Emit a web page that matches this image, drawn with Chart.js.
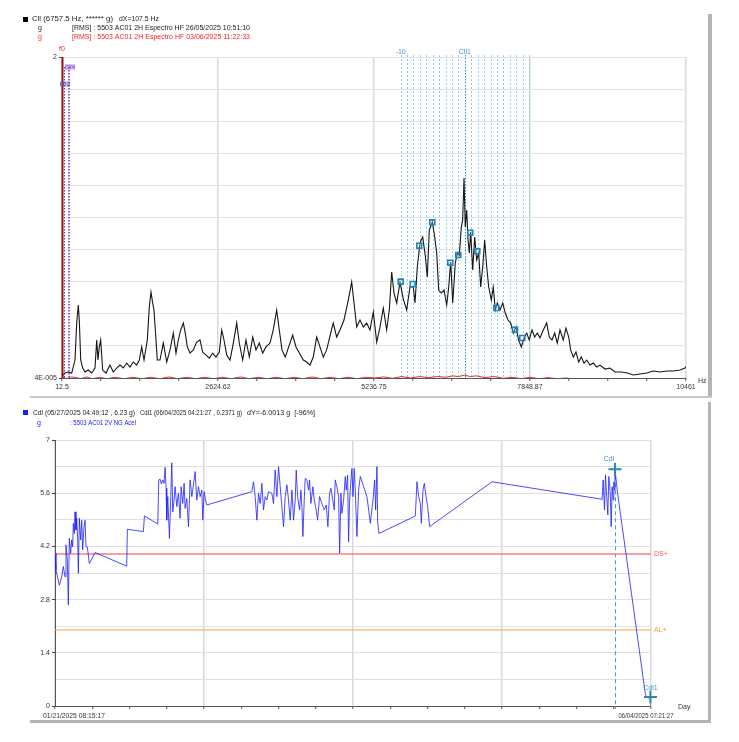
<!DOCTYPE html>
<html><head><meta charset="utf-8">
<script src="https://cdn.jsdelivr.net/npm/chart.js@4.4.1/dist/chart.umd.min.js"></script>
<style>
html,body{margin:0;padding:0;background:#fff;width:739px;height:742px;overflow:hidden;}
canvas{position:absolute;left:0;}
#c1{top:0;}
#c2{top:400px;}
.bar{position:absolute;background:#b4b4b4;}
</style></head><body>
<canvas id="c1" width="739" height="400"></canvas>
<canvas id="c2" width="739" height="342"></canvas>
<div class="bar" style="left:708px;top:14px;width:4px;height:383px;"></div>
<div class="bar" style="left:30px;top:396px;width:682px;height:2px;background:#c8c8c8"></div>
<div class="bar" style="left:708px;top:402px;width:3px;height:320px;"></div>
<div class="bar" style="left:30px;top:720px;width:681px;height:3px;"></div>
<script>
// ---------- Top panel: spectrum ----------
const specFreq = [12.5,63,118,175,230,259,285,302,326,359,398,453,510,565,594,615,637,660,694,749,816,871,928,984,1039,1096,1151,1206,1263,1307,1347,1386,1441,1474,1503,1531,1553,1575,1608,1653,1709,1766,1821,1876,1921,1960,2000,2044,2077,2111,2156,2211,2268,2323,2368,2424,2479,2536,2591,2646,2687,2725,2770,2826,2881,2938,2981,3038,3093,3149,3206,3261,3316,3373,3428,3495,3550,3607,3651,3696,3751,3808,3875,3931,3986,4053,4110,4165,4220,4277,4332,4388,4444,4511,4555,4612,4667,4734,4806,4863,4902,4947,5002,5058,5114,5170,5225,5282,5337,5392,5449,5493,5533,5572,5617,5672,5727,5784,5839,5895,5923,5962,6007,6052,6096,6129,6163,6213,6253,6287,6320,6364,6409,6454,6488,6521,6555,6598,6632,6665,6699,6722,6744,6765,6789,6811,6833,6856,6889,6923,6956,6990,7023,7057,7090,7124,7157,7201,7234,7268,7301,7346,7392,7435,7480,7526,7569,7614,7659,7703,7748,7793,7836,7882,7927,7971,8016,8071,8128,8172,8217,8262,8306,8351,8406,8451,8497,8530,8574,8619,8664,8708,8753,8798,8853,8909,8965,9021,9105,9188,9272,9384,9478,9578,9690,9803,9913,10025,10137,10248,10360,10444,10461];
const specG = [4.27e-5,4.73e-5,4.89e-5,4.73e-5,7.33e-5,2.55e-4,4.68e-4,2.82e-4,7.33e-5,5.6e-5,4.89e-5,5.23e-5,4.73e-5,5.6e-5,1.44e-4,7.33e-5,1.14e-4,1.44e-4,5.23e-5,4.73e-5,6.19e-5,4.89e-5,5.6e-5,6.19e-5,5.6e-5,6.62e-5,5.79e-5,6.85e-5,6.19e-5,7.33e-5,1.14e-4,7.33e-5,1.44e-4,4.38e-4,7.25e-4,5.01e-4,3.95e-4,2.02e-4,7.33e-5,7.33e-5,1.3e-4,6.85e-5,1.03e-4,1.82e-4,9.27e-5,1.44e-4,2.02e-4,2.55e-4,1.82e-4,1.14e-4,9.27e-5,1.03e-4,1.34e-4,1.44e-4,9.59e-5,8.67e-5,7.83e-5,9.27e-5,8.1e-5,9.59e-5,2.02e-4,1.44e-4,8.67e-5,7.33e-5,1.3e-4,2.55e-4,1.3e-4,7.33e-5,1.44e-4,8.1e-5,1.59e-4,1.03e-4,1.3e-4,9.27e-5,1.14e-4,1.3e-4,2.02e-4,3.95e-4,2.02e-4,1.03e-4,8.1e-5,1.14e-4,1.7e-4,1.14e-4,9.27e-5,7.33e-5,6.85e-5,6.19e-5,8.1e-5,1.59e-4,1.14e-4,8.1e-5,1.03e-4,1.82e-4,2.55e-4,1.59e-4,2.02e-4,2.82e-4,5.54e-4,1.02e-3,5.01e-4,2.23e-4,2.82e-4,2.23e-4,2.55e-4,2.02e-4,3.7e-4,1.34e-4,2.23e-4,4.23e-4,2.02e-4,3.95e-4,1.424e-3,7.01e-4,5.01e-4,1.02e-3,5.73e-4,3.95e-4,8.59e-4,8.59e-4,5.01e-4,1.685e-3,3.785e-3,4.634e-3,2.442e-3,1.203e-3,5.867e-3,7.683e-3,4.634e-3,2.701e-3,7.76e-4,7.01e-4,7.76e-4,4.68e-4,8.59e-4,1.995e-3,5.01e-4,1.929e-3,2.701e-3,2.5e-3,6.491e-3,8.219e-3,3.387e-2,6.491e-3,1.151e-2,4.188e-3,2.701e-3,5.484e-3,1.523e-3,4.634e-3,2.134e-3,2.701e-3,8.59e-4,1.685e-3,4.188e-3,1.685e-3,8.59e-4,5.54e-4,8.59e-4,3.95e-4,5.01e-4,3.95e-4,5.01e-4,3.57e-4,2.82e-4,2.55e-4,1.82e-4,2.23e-4,1.44e-4,1.14e-4,1.54e-4,1.82e-4,1.44e-4,2.02e-4,1.59e-4,1.82e-4,1.54e-4,2.02e-4,2.55e-4,1.59e-4,1.44e-4,1.82e-4,1.3e-4,2.02e-4,1.44e-4,2.15e-4,1.59e-4,1.03e-4,8.1e-5,9.59e-5,6.85e-5,8.1e-5,6.62e-5,7.33e-5,6.19e-5,6.62e-5,5.79e-5,6.19e-5,5.41e-5,5.6e-5,4.89e-5,4.89e-5,4.73e-5,4.42e-5,4.57e-5,4.73e-5,5.06e-5,4.89e-5,5.06e-5,5.06e-5,5.23e-5,5.6e-5,5.9e-5];
const redFreq = [12.5,90,170,250,330,420,520,640,760,900,1050,1200,1350,1500,1650,1800,1950,2100,2250,2400,2550,2700,2850,3000,3150,3300,3450,3600,3750,3900,4050,4200,4350,4500,4650,4800,4950,5100,5250,5400,5550,5700,5850,6000,6150,6300,6450,6550,6650,6750,6850,6950,7100,7250,7400,7550,7700,7850,8000,8150,8300,8450,8600];
const redG = [4.2e-5,3.9e-5,4.15e-5,4.05e-5,3.9e-5,4.15e-5,3.9e-5,4.1e-5,3.9e-5,4.1e-5,3.9e-5,4.1e-5,3.9e-5,4.1e-5,3.9e-5,4.15e-5,3.9e-5,4.1e-5,3.9e-5,4.1e-5,3.9e-5,4.1e-5,3.9e-5,4.15e-5,3.9e-5,4.1e-5,3.9e-5,4.1e-5,3.9e-5,4.1e-5,3.9e-5,4.15e-5,3.9e-5,4.1e-5,3.9e-5,4.1e-5,3.9e-5,4.1e-5,4.0e-5,4.15e-5,3.95e-5,4.2e-5,4.0e-5,4.2e-5,4.05e-5,4.2e-5,4.1e-5,4.3e-5,4.2e-5,4.4e-5,4.2e-5,4.3e-5,4.05e-5,4.2e-5,3.95e-5,4.1e-5,3.9e-5,4.1e-5,3.9e-5,4.05e-5,3.9e-5,4.0e-5,3.85e-5];
const markerFreq = [5684,5885,5995,6213,6514,6648,6849,6966,7285,7598,7720];
const markerG = [0.00103,0.000951,0.00346,0.0076,0.00195,0.00253,0.00536,0.00286,0.000423,0.000204,0.000154];
const sidebandFreq = [5682.5,5790,5897.5,6005,6112.5,6220,6327.5,6435,6542.5,6650,6757.5,6865,6972.5,7080,7187.5,7295,7402.5,7510,7617.5,7725,7832.5];
const freqTickLabels = ["12.5","2624.62","5236.75","7848.87","10461"];
const ampTickLabels = ["4E-005","2"];
const freqMin = 12.5, freqMax = 10461, ampMin = 4e-5, ampMax = 2;

// ---------- Bottom panel: trend ----------
const trendDay = [0,0.22,0.97,1.5,1.87,2.25,2.47,2.77,3.0,3.22,3.52,3.75,3.97,4.12,4.35,4.5,4.72,4.87,5.1,5.25,5.47,5.77,6.0,6.22,6.52,6.75,6.97,7.27,7.72,9.0,16.12,16.27,19.87,20.1,23.1,23.32,23.62,23.92,24.22,24.52,24.75,24.97,25.12,25.35,25.72,26.02,26.25,26.47,26.77,27.0,27.37,27.75,28.12,28.35,28.72,29.02,29.25,29.62,30.0,30.37,30.75,31.12,31.5,31.87,32.25,32.62,33.0,33.22,33.52,33.82,34.12,44.24,44.62,44.99,45.37,45.74,46.12,46.49,46.87,47.24,47.62,47.99,48.74,49.12,49.49,49.87,50.24,50.62,50.99,51.37,51.74,52.12,52.49,52.87,53.24,53.62,53.99,54.22,54.52,54.97,55.27,55.49,55.72,56.02,56.24,56.62,56.99,57.22,57.52,57.97,58.27,58.72,59.02,59.47,59.99,60.52,60.97,61.34,61.72,62.02,62.39,62.77,62.99,63.37,63.74,63.97,64.27,64.49,64.87,65.24,65.47,65.77,65.99,66.22,66.52,66.74,66.97,67.27,67.49,67.87,68.24,68.62,69.37,70.12,70.87,71.47,71.84,72.07,72.37,72.52,72.82,80.99,81.36,81.74,82.11,82.34,82.71,83.01,83.39,83.76,84.21,98.24,122.98,123.21,123.51,123.73,123.96,124.26,124.48,124.71,124.86,125.01,125.23,125.46,125.61,125.72,125.86,126.21,126.36,132.36,132.73,133.48,133.84];
const trendG = [4.02,3.58,3.18,3.4,3.67,3.4,4.24,3.84,2.66,4.41,4.02,4.37,4.19,4.81,4.54,5.11,4.63,4.94,4.37,3.49,4.94,4.37,4.89,4.11,4.72,4.89,4.19,4.18,3.75,4.04,3.68,4.65,4.59,5.0,4.79,5.95,5.97,5.84,5.95,5.86,6.28,5.73,4.89,5.51,4.41,5.51,6.4,5.11,5.42,5.77,5.25,5.6,4.94,5.77,5.33,5.86,5.2,5.46,4.72,5.95,5.51,5.82,6.17,5.42,5.77,5.51,5.68,4.89,5.64,5.42,5.29,5.64,5.9,5.51,4.89,5.6,5.33,5.86,5.16,5.51,5.42,5.64,5.6,5.33,6.21,5.51,6.3,5.77,5.25,4.72,5.51,5.82,5.42,4.89,5.68,4.89,5.42,6.21,5.51,5.16,5.68,5.25,4.46,5.42,5.99,5.95,5.68,5.95,5.33,5.77,5.42,5.16,4.89,5.51,5.33,5.16,5.29,4.72,5.6,5.73,5.46,5.16,5.95,5.77,5.51,4.02,5.6,5.07,5.42,6.04,5.68,6.08,4.32,5.42,5.95,6.25,5.51,6.25,5.68,4.46,5.68,6.04,5.77,5.51,4.81,5.42,5.95,5.16,6.3,4.85,4.54,5.0,5.9,5.51,5.33,4.81,5.68,5.86,5.51,5.25,4.72,5.9,5.44,5.95,5.16,6.08,5.6,5.03,6.04,5.77,5.42,4.72,5.77,5.42,5.9,5.68,6.23,5.86,5.68,0.6,0.29,0.2,0.2371];
const dangerLevel = 4.0, alertLevel = 2.0;
const cursorDay = [125.86, 133.84];
const cursorG = [6.23, 0.2371];
const gTickLabels = ["0","1.4","2.8","4.2","5.6","7"];
const dateTickLabels = ["01/21/2025 08:15:17","06/04/2025 07:21:27"];
const dayMax = 133.963;

const FONT = "'Liberation Sans', Arial, sans-serif";
Chart.defaults.font.family = FONT;
Chart.defaults.font.size = 7;
Chart.defaults.color = '#333';

function pts(xs, ys){ return xs.map((x,i)=>({x:x, y:ys[i]})); }
function fitText(ctx, s, x, y, color, w, align){
  ctx.save();
  ctx.fillStyle = color; ctx.textBaseline = 'middle'; ctx.textAlign = 'left';
  const m = ctx.measureText(s).width;
  let left = x;
  if (align === 'center') left = x - (w || m)/2;
  if (align === 'right') left = x - (w || m);
  ctx.translate(left, y);
  if (w) ctx.scale(w/m, 1);
  ctx.fillText(s, 0, 0);
  ctx.restore();
}

const topDeco = {
  id: 'topDeco',
  beforeDatasetsDraw(chart){
    const {ctx, chartArea:a, scales:{x}} = chart;
    ctx.save();
    sidebandFreq.forEach((f,i)=>{
      const px = Math.round(x.getPixelForValue(f)) + 0.5;
      const center = (i === 10);
      ctx.strokeStyle = center ? '#2a8ec4' : '#8fd0ee';
      ctx.setLineDash(center ? [1.5,1.5] : [2,2]);
      ctx.lineWidth = 1;
      ctx.beginPath(); ctx.moveTo(px, a.top - 2); ctx.lineTo(px, a.bottom); ctx.stroke();
    });
    ctx.setLineDash([1.5,1.5]);
    [[40,'#4a4aa8'],[105,'#9b5ad8'],[130,'#9b5ad8']].forEach(([f,c])=>{
      const px = Math.round(x.getPixelForValue(f)) + 0.5;
      ctx.strokeStyle = c; ctx.beginPath(); ctx.moveTo(px, a.top + 10); ctx.lineTo(px, a.bottom); ctx.stroke();
    });
    ctx.restore();
  },
  afterDatasetsDraw(chart){
    const {ctx, chartArea:a, scales:{x}} = chart;
    ctx.save();
    const px = x.getPixelForValue(freqMin) + 0.5;
    ctx.strokeStyle = '#a01010'; ctx.lineWidth = 2;
    ctx.beginPath(); ctx.moveTo(px, a.top); ctx.lineTo(px, a.bottom); ctx.stroke();
    ctx.restore();
  },
  afterDraw(chart){
    const {ctx, chartArea:a, scales:{x}} = chart;
    ctx.save();
    ctx.font = '7px ' + FONT;
    ctx.fillStyle = '#000'; ctx.fillRect(23, 17, 5, 5);
    fitText(ctx, 'Cll (6757.5 Hz, ****** g)', 32, 19.5, '#222', 81);
    fitText(ctx, 'dX=107.5 Hz', 119, 19.5, '#222', 40);
    fitText(ctx, 'g', 38, 28.5, '#222');
    fitText(ctx, '[RMS] : 5503 AC01 2H Espectro HF 26/05/2025 10:51:10', 72, 28.5, '#222', 178);
    fitText(ctx, 'g', 38, 37, '#ff2020');
    fitText(ctx, '[RMS] : 5503 AC01 2H Espectro HF 03/06/2025 11:22:33', 72, 37, '#ff2020', 178);
    fitText(ctx, 'f0', x.getPixelForValue(freqMin), 49, '#ff2020', 0, 'center');
    fitText(ctx, '-10', x.getPixelForValue(sidebandFreq[0]), 52, '#3a9ac8', 0, 'center');
    fitText(ctx, 'Cll1', x.getPixelForValue(sidebandFreq[10]), 52, '#3a9ac8', 0, 'center');
    ctx.font = '6px ' + FONT;
    ctx.fillStyle = 'rgba(170,120,230,0.45)'; ctx.fillRect(65, 64, 10, 6);
    fitText(ctx, 'f3f4', 65, 67, '#7a3ac8', 10);
    ctx.fillStyle = 'rgba(120,120,220,0.35)'; ctx.fillRect(60, 81, 10, 6);
    fitText(ctx, 'f1f2', 60, 84, '#3a3a98', 10);
    ctx.font = '7px ' + FONT;
    fitText(ctx, 'Hz', a.right + 12, a.bottom + 3, '#333');
    ctx.restore();
  }
};

new Chart(document.getElementById('c1'), {
  type: 'line',
  data: { datasets: [
    { type:'scatter', data: pts(markerFreq, markerG), pointStyle:'rect', pointRadius:3.5,
      pointBorderColor:'#1b86bd', pointBorderWidth:1.6, pointBackgroundColor:'rgba(255,255,255,0.25)', showLine:false },
    { data: pts(specFreq, specG), borderColor:'#151515', borderWidth:1.1, pointRadius:0, tension:0 },
    { data: pts(redFreq, redG), borderColor:'#e62828', borderWidth:1, pointRadius:0, tension:0, clip:0 }
  ]},
  options: {
    responsive:false, animation:false, devicePixelRatio:1,
    layout:{ padding:{ top:57, right:53, left:0, bottom:0 } },
    plugins:{ legend:{display:false}, tooltip:{enabled:false} },
    scales:{
      x:{ type:'linear', min:freqMin, max:freqMax,
        afterBuildTicks: s => { s.ticks = Array.from({length:17}, (_,i)=>({value: freqMin + i*(freqMax-freqMin)/16})); },
        afterFit: s => { s.height = 22; },
        ticks:{ autoSkip:false, maxRotation:0, padding:2, color:'#333', font:{size:7},
          callback:(v,i)=> i%4===0 ? freqTickLabels[i/4] : '' },
        grid:{ color: c => c.index%4===0 ? '#d9d9d9' : 'rgba(0,0,0,0)', lineWidth:1.5,
          tickColor:'#555', tickWidth:1, tickLength:3 },
        border:{ color:'#555', width:1 }
      },
      y:{ type:'logarithmic', min:ampMin, max:ampMax,
        afterBuildTicks: s => { s.ticks = Array.from({length:11}, (_,i)=>({value: ampMin*Math.pow(ampMax/ampMin, i/10)})); },
        afterFit: s => { s.width = 62; },
        ticks:{ autoSkip:false, padding:2, color:'#333', font:{size:7},
          callback:(v,i)=> i===0 ? ampTickLabels[0] : (i===10 ? ampTickLabels[1] : '') },
        grid:{ color:'#e3e3e3', lineWidth:1,
          tickColor: c => (c.index===0||c.index===10) ? '#444' : 'rgba(0,0,0,0)', tickWidth:1, tickLength:3 },
        border:{ color:'#555', width:1 }
      }
    }
  },
  plugins:[topDeco]
});

const bottomDeco = {
  id:'bottomDeco',
  beforeDatasetsDraw(chart){
    const {ctx, chartArea:a, scales:{x,y}} = chart;
    ctx.save();
    ctx.strokeStyle = '#3aa0d0'; ctx.lineWidth = 1; ctx.setLineDash([4,3]);
    cursorDay.forEach((d,i)=>{
      const px = Math.round(x.getPixelForValue(d)) + 0.5;
      ctx.beginPath(); ctx.moveTo(px, y.getPixelForValue(cursorG[i])); ctx.lineTo(px, a.bottom + 3); ctx.stroke();
    });
    ctx.restore();
  },
  afterDraw(chart){
    const {ctx, chartArea:a, scales:{x,y}} = chart;
    ctx.save();
    ctx.font = '7px ' + FONT;
    ctx.fillStyle = '#1c1cff'; ctx.fillRect(23, 10, 5, 5);
    fitText(ctx, 'Cdl (05/27/2025 04:49:12 , 6.23 g)', 33, 13, '#222', 102);
    fitText(ctx, 'Cdl1 (06/04/2025 04:21:27 , 0.2371 g)', 140, 13, '#222', 102);
    fitText(ctx, 'dY=-6.0013 g  [-96%]', 247, 13, '#222', 68);
    fitText(ctx, 'g', 37, 23, '#2020ff');
    fitText(ctx, ': 5503 AC01 2V NG Acel', 70, 23, '#2020ff', 66);
    fitText(ctx, 'DS+', a.right + 3, y.getPixelForValue(dangerLevel), '#ff5a5a');
    fitText(ctx, 'AL+', a.right + 3, y.getPixelForValue(alertLevel), '#f0a040');
    fitText(ctx, 'Cdl', x.getPixelForValue(cursorDay[0]) - 6, y.getPixelForValue(cursorG[0]) - 10, '#3a9ac8', 0, 'center');
    fitText(ctx, 'Cdl1', x.getPixelForValue(cursorDay[1]), y.getPixelForValue(cursorG[1]) - 9, '#3a9ac8', 0, 'center');
    fitText(ctx, dateTickLabels[0], a.left - 12, a.bottom + 10, '#333', 62);
    fitText(ctx, dateTickLabels[1], a.right - 5, a.bottom + 10, '#333', 55, 'center');
    fitText(ctx, 'Day', a.right + 27, a.bottom + 1, '#333');
    ctx.restore();
  }
};

new Chart(document.getElementById('c2'), {
  type:'line',
  data:{ datasets:[
    { type:'scatter', data: pts(cursorDay, cursorG), pointStyle:'cross', pointRadius:6.5,
      pointBorderColor:'#2a88b2', pointBorderWidth:2, showLine:false, clip:false },
    { data: pts(trendDay, trendG), borderColor:'rgba(30,30,255,0.8)', borderWidth:1, pointRadius:0, tension:0 },
    { data: [{x:0,y:dangerLevel},{x:dayMax,y:dangerLevel}], borderColor:'#ff7c7c', borderWidth:1.5, pointRadius:0 },
    { data: [{x:0,y:alertLevel},{x:dayMax,y:alertLevel}], borderColor:'#f4a450', borderWidth:1.2, pointRadius:0 }
  ]},
  options:{
    responsive:false, animation:false, devicePixelRatio:1,
    layout:{ padding:{ top:40, right:88, left:0, bottom:0 } },
    plugins:{ legend:{display:false}, tooltip:{enabled:false} },
    scales:{
      x:{ type:'linear', min:0, max:dayMax,
        afterBuildTicks: s => { s.ticks = Array.from({length:17}, (_,i)=>({value: i*dayMax/16})); },
        afterFit: s => { s.height = 36; },
        ticks:{ autoSkip:false, maxRotation:0, callback:()=> '' },
        grid:{ color: c => c.index%4===0 ? '#d9d9d9' : 'rgba(0,0,0,0)', lineWidth:1.5,
          tickColor:'#555', tickWidth:1, tickLength:3 },
        border:{ color:'#555', width:1 }
      },
      y:{ type:'linear', min:0, max:7,
        afterBuildTicks: s => { s.ticks = Array.from({length:11}, (_,i)=>({value: i*0.7})); },
        afterFit: s => { s.width = 55; },
        ticks:{ autoSkip:false, padding:2, color:'#333', font:{size:7},
          callback:(v,i)=> i%2===0 ? gTickLabels[i/2] : '' },
        grid:{ color:'#e0e0e0', lineWidth:1,
          tickColor: c => c.index%2===0 ? '#444' : 'rgba(0,0,0,0)', tickWidth:1, tickLength:3 },
        border:{ color:'#555', width:1 }
      }
    }
  },
  plugins:[bottomDeco]
});
</script>
</body></html>
